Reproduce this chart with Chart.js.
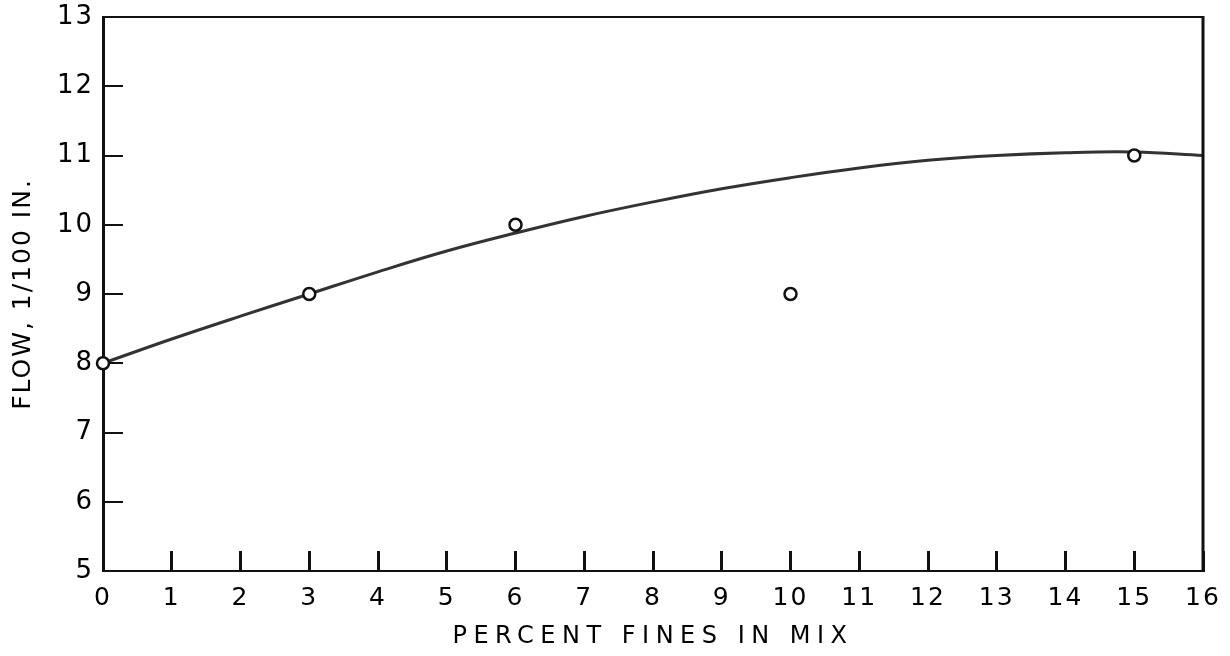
<!DOCTYPE html>
<html>
<head>
<meta charset="utf-8">
<script src="https://cdn.jsdelivr.net/npm/chart.js@4/dist/chart.umd.min.js"></script>
<style>
  html, body { margin: 0; padding: 0; background: #fff; }
</style>
</head>
<body>
<canvas id="flowChart" width="1230" height="656"></canvas>
<script>
// Measured points (percent fines vs flow)
const finesPct = [0, 3, 6, 10, 15];
const flowValues = [8, 9, 10, 9, 11];

// Smoothed curve
const curveX = [0, 1, 2, 3, 4, 5, 6, 7, 8, 9, 10, 11, 12, 13, 14, 15, 16];
const curveY = [8.0, 8.35, 8.68, 9.0, 9.32, 9.62, 9.88, 10.12, 10.33, 10.52, 10.68, 10.82, 10.93, 11.0, 11.04, 11.05, 11.0];

const xTicks = [0, 1, 2, 3, 4, 5, 6, 7, 8, 9, 10, 11, 12, 13, 14, 15, 16];
const yTicks = [5, 6, 7, 8, 9, 10, 11, 12, 13];

const FONT = '"DejaVu Sans", sans-serif';

// no extra room for overhanging tick labels, the frame sits where the drawing has it
function noOverhang(scale) {
  scale.paddingTop = 0;
  scale.paddingBottom = 0;
  scale.paddingLeft = 0;
  scale.paddingRight = 0;
}

// wider letter spacing on the axis titles (lettering guide look)
function spacedTitle(scale, spacing) {
  if (scale._spaced) return;
  const orig = scale.drawTitle.bind(scale);
  scale.drawTitle = function () {
    const ctx = scale.ctx;
    const old = ctx.letterSpacing;
    ctx.letterSpacing = spacing;
    orig();
    ctx.letterSpacing = old;
  };
  scale._spaced = true;
}

const spacingPlugin = {
  id: 'spacing',
  afterLayout(chart) {
    spacedTitle(chart.scales.x, '6.5px');
    spacedTitle(chart.scales.y, '2px');
  },
  beforeDraw(chart) {
    chart.ctx.letterSpacing = '2px';
  }
};

// top and right edges of the frame
const framePlugin = {
  id: 'frame',
  afterDatasetsDraw(chart) {
    const { ctx, chartArea } = chart;
    ctx.save();
    ctx.strokeStyle = '#111';
    ctx.lineWidth = 2;
    ctx.beginPath();
    ctx.moveTo(chartArea.left, chartArea.top);
    ctx.lineTo(chartArea.right, chartArea.top);
    ctx.stroke();
    ctx.lineWidth = 3;
    ctx.beginPath();
    ctx.moveTo(chartArea.right, chartArea.top - 1);
    ctx.lineTo(chartArea.right, chartArea.bottom);
    ctx.stroke();
    ctx.restore();
  }
};

let flowChart = new Chart(document.getElementById('flowChart').getContext('2d'), {
  type: 'scatter',
  data: {
    datasets: [{
      label: 'Measured',
      data: finesPct.map((x, i) => ({ x: x, y: flowValues[i] })),
      pointRadius: 6,
      pointBorderWidth: 2.5,
      pointBackgroundColor: '#fff',
      pointBorderColor: '#111',
      showLine: false,
      clip: false,
      order: 0
    }, {
      label: 'Curve',
      data: curveX.map((x, i) => ({ x: x, y: curveY[i] })),
      showLine: true,
      borderColor: '#333',
      borderWidth: 3,
      pointRadius: 0,
      tension: 0.4,
      clip: false,
      order: 1
    }]
  },
  options: {
    responsive: false,
    animation: false,
    devicePixelRatio: 1,
    layout: { padding: { top: 17, right: 27, bottom: 0, left: 0 } },
    plugins: {
      legend: { display: false },
      tooltip: { enabled: false }
    },
    scales: {
      x: {
        type: 'linear',
        min: 0,
        max: 16,
        afterBuildTicks: (scale) => { scale.ticks = xTicks.map(v => ({ value: v })); },
        afterFit: (scale) => { scale.height = 85; noOverhang(scale); },
        grid: { drawOnChartArea: false, drawTicks: true, tickLength: -20, lineWidth: 3, color: '#111' },
        border: { display: true, color: '#111', width: 2 },
        ticks: { color: '#000', padding: 32, font: { family: FONT, size: 25 } },
        title: {
          display: true,
          text: 'PERCENT FINES IN MIX',
          color: '#000',
          font: { family: FONT, size: 24 },
          padding: { top: 0, bottom: 5 }
        }
      },
      y: {
        type: 'linear',
        min: 5,
        max: 13,
        afterBuildTicks: (scale) => { scale.ticks = yTicks.map(v => ({ value: v })); },
        afterFit: (scale) => { scale.width = 103; noOverhang(scale); },
        grid: { drawOnChartArea: false, drawTicks: true, tickLength: -20, lineWidth: 2, color: '#111' },
        border: { display: true, color: '#111', width: 3 },
        ticks: { color: '#000', padding: 29, font: { family: FONT, size: 26 } },
        title: {
          display: true,
          text: 'FLOW, 1/100 IN.',
          color: '#000',
          font: { family: FONT, size: 25 },
          padding: { top: 8, bottom: 0 }
        }
      }
    }
  },
  plugins: [spacingPlugin, framePlugin]
});
</script>
</body>
</html>
